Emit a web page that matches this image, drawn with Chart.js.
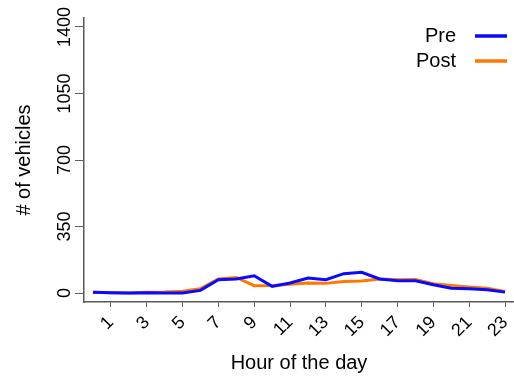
<!DOCTYPE html>
<html lang="en">
  <head>
    <meta charset="UTF-8" />
    <title>Vehicles by hour</title>
    <script src="https://cdn.jsdelivr.net/npm/chart.js@4.4.0/dist/chart.umd.min.js"></script>
    <style>
      html, body { margin: 0; padding: 0; background: #fff; }
      #wrap { width: 514px; height: 378px; }
    </style>
  </head>
  <body>
    <div id="wrap"><canvas id="chart" width="514" height="378"></canvas></div>

    <script>
      // hour of the day
      const hours = [0, 1, 2, 3, 4, 5, 6, 7, 8, 9, 10, 11, 12, 13, 14, 15, 16, 17, 18, 19, 20, 21, 22, 23]
      const preValues = [4, 2, 0, 2, 0, 0, 14, 70, 74, 91, 35, 53, 79, 70, 102, 109, 74, 65, 65, 44, 25, 23, 18, 5]
      const postValues = [4, 2, 0, 4, 5, 9, 23, 74, 82, 39, 40, 46, 53, 51, 61, 63, 74, 70, 72, 49, 40, 32, 26, 9]
      const xTicks = [1, 3, 5, 7, 9, 11, 13, 15, 17, 19, 21, 23]
      const yTicks = [0, 350, 700, 1050, 1400]

      const COLORS = {
        pre: 'rgb(10, 10, 255)',
        post: 'rgb(255, 120, 0)',
        axis: 'rgb(90, 90, 90)',
      }
      const FONT = 'Liberation Sans, Arial, sans-serif'

      const toPoints = (vals) => hours.map((h, i) => ({ x: h, y: vals[i] }))

      // y tick labels are drawn rotated (reading bottom to top)
      const yLabels = {
        id: 'yLabels',
        afterDraw(chart) {
          const ctx = chart.ctx
          const y = chart.scales.y
          ctx.save()
          ctx.fillStyle = '#000'
          ctx.font = '18px ' + FONT
          ctx.textAlign = 'center'
          ctx.textBaseline = 'middle'
          yTicks.forEach((v) => {
            ctx.save()
            ctx.translate(65, y.getPixelForValue(v))
            ctx.rotate(-Math.PI / 2)
            ctx.fillText(String(v), 0, 0)
            ctx.restore()
          })
          ctx.restore()
        },
      }

      // legend in the top right corner: label, then a line sample
      const cornerLegend = {
        id: 'cornerLegend',
        afterDraw(chart) {
          const ctx = chart.ctx
          ctx.save()
          ctx.font = '20px ' + FONT
          ctx.textAlign = 'right'
          ctx.textBaseline = 'middle'
          chart.data.datasets.forEach((ds, i) => {
            const yy = 36 + i * 25
            ctx.fillStyle = '#000'
            ctx.fillText(ds.label, 456, yy)
            ctx.strokeStyle = ds.borderColor
            ctx.lineWidth = 3.5
            ctx.beginPath()
            ctx.moveTo(475, yy)
            ctx.lineTo(507, yy)
            ctx.stroke()
          })
          ctx.restore()
        },
      }

      new Chart(document.getElementById('chart').getContext('2d'), {
        type: 'line',
        data: {
          datasets: [
            {
              label: 'Pre',
              data: toPoints(preValues),
              borderColor: COLORS.pre,
              backgroundColor: COLORS.pre,
              borderWidth: 3,
              pointRadius: 0,
              tension: 0,
            },
            {
              label: 'Post',
              data: toPoints(postValues),
              borderColor: COLORS.post,
              backgroundColor: COLORS.post,
              borderWidth: 3,
              pointRadius: 0,
              tension: 0,
            },
          ],
        },
        options: {
          responsive: false,
          animation: false,
          layout: { padding: { left: 0, right: 0, top: 18, bottom: 0 } },
          plugins: {
            legend: { display: false },
            tooltip: { enabled: false },
          },
          scales: {
            x: {
              type: 'linear',
              min: -0.5,
              max: 23.5,
              afterBuildTicks: (scale) => {
                scale.ticks = xTicks.map((v) => ({ value: v }))
              },
              afterFit: (scale) => {
                scale.height = 76
                scale.paddingLeft = 0
                scale.paddingRight = 0
              },
              grid: { drawOnChartArea: false, color: COLORS.axis, tickLength: 5 },
              border: { color: COLORS.axis, width: 1.5 },
              ticks: {
                autoSkip: false,
                minRotation: 45,
                maxRotation: 45,
                padding: 5,
                color: '#000',
                font: { family: FONT, size: 18 },
              },
              title: {
                display: true,
                text: 'Hour of the day',
                color: '#000',
                font: { family: FONT, size: 20 },
                padding: { top: 0, bottom: 3 },
              },
            },
            y: {
              min: -47,
              max: 1447,
              afterBuildTicks: (scale) => {
                scale.ticks = yTicks.map((v) => ({ value: v }))
              },
              afterFit: (scale) => {
                scale.width = 84
              },
              grid: { drawOnChartArea: false, color: COLORS.axis, tickLength: 9 },
              border: { color: COLORS.axis, width: 1.5 },
              ticks: { display: false },
              title: {
                display: true,
                text: '# of vehicles',
                color: '#000',
                font: { family: FONT, size: 20 },
                padding: { top: 12, bottom: 0 },
              },
            },
          },
        },
        plugins: [yLabels, cornerLegend],
      })
    </script>
  </body>
</html>
